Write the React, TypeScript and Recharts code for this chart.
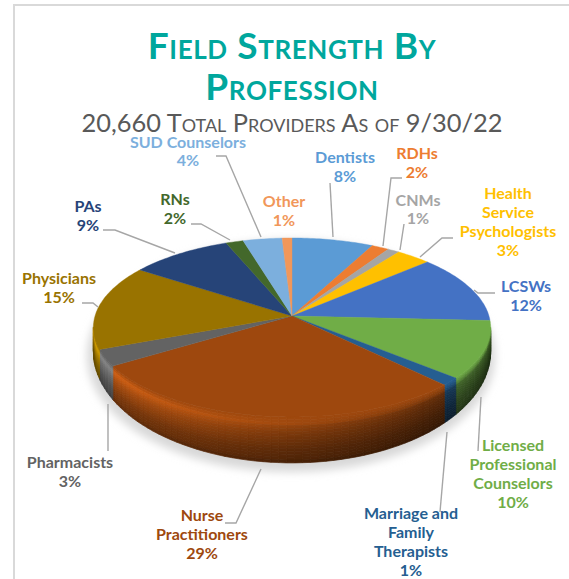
import React from "react";
import { PieChart, Pie, Cell } from "recharts";

const names = ["Dentists","RDHs","CNMs","Health Service Psychologists","LCSWs","Licensed Professional Counselors","Marriage and Family Therapists","Nurse Practitioners","Pharmacists","Physicians","PAs","RNs","SUD Counselors","Other"];
const shares = [7.5,1.6,1.1,3.2,12.4,10.4,1.4,28.5,3.0,15.4,9.4,1.6,3.6,0.9];
const colors = ["#5B9BD5","#ED7D31","#A5A5A5","#FFC000","#4472C4","#70AD47","#255E91","#9E480E","#636363","#997300","#264478","#43682B","#7CAFDD","#F1975A"];
const labelLines = [["Dentists"],["RDHs"],["CNMs"],["Health","Service","Psychologists"],["LCSWs"],["Licensed","Professional","Counselors"],["Marriage and","Family","Therapists"],["Nurse","Practitioners"],["Pharmacists"],["Physicians"],["PAs"],["RNs"],["SUD Counselors"],["Other"]];
const titleLines = ["Field Strength By","Profession"];
const subtitle = "20,660 Total Providers As of 9/30/22";

// Label placement: [centre x, first baseline, line step, leader points]
const labelPlacement: [number, number, number, number[][]][] = [
  [345,163,18.5,[[330,183],[333,237]]],
  [417,159,18.5,[[402,178],[391,178],[383,246]]],
  [418,206,18,[[404,224],[400,250]]],
  [508,199,19,[[453,238],[442,238],[420,257]]],
  [526,292,19,[[495,293],[478,293],[474,290]]],
  [513,451,19,[[481,397],[478,451]]],
  [411,519,19,[[447,432],[440,512]]],
  [202,521,19,[[261,469],[236,523],[225,523]]],
  [70,468,18.5,[[108,404],[108,451]]],
  [59,284,19,[[82,303],[93,303],[98,307]]],
  [88,212,19,[[103,230],[115,230],[175,253]]],
  [175,205,18.5,[[191,224],[201,224],[230,240]]],
  [188,148,18,[[216,156],[226,156],[261,237]]],
  [284,207,19,[]],
];

const data = names.map((name, i) => ({ name, value: shares[i] }));

const CX = 292, CY = 316, R = 197;
const VERT = 88 / 197, PERSP = 0.128;
const RIM_CY = 327, RIM_RY = 90;
const rad = Math.PI / 180;

const project = (theta: number, cx: number, cy: number, r: number) => {
  const u = Math.sin(theta * rad), v = Math.cos(theta * rad), w = 1 + PERSP * v;
  return [cx + (r * u) / w, cy - (r * VERT * v) / w];
};
const wallDepth = (y: number) => 24 + 22 * ((y - RIM_CY) / RIM_RY);

const shadeAt = (t: number, u: number) => {
  const stops = [[0,1.0],[0.16,1.2],[0.36,0.98],[0.72,0.72],[0.96,0.62],[1,0.42]];
  let s = 0.42;
  for (let i = 1; i < stops.length; i++) {
    if (t <= stops[i][0]) {
      const k = (t - stops[i-1][0]) / (stops[i][0] - stops[i-1][0]);
      s = stops[i-1][1] + k * (stops[i][1] - stops[i-1][1]);
      break;
    }
  }
  const light = 0.8 - 0.36 * u;
  return s * (1 + (light - 1) * Math.min(1, t / 0.2));
};
const shade = (hex: string, f: number) => {
  const n = parseInt(hex.slice(1), 16);
  const c = [(n >> 16) & 255, (n >> 8) & 255, n & 255].map((x) => Math.min(255, Math.round(x * f)));
  return `rgb(${c[0]},${c[1]},${c[2]})`;
};
const pts = (a: number[][]) => a.map((p) => `${p[0].toFixed(1)},${p[1].toFixed(1)}`).join(" ");

const Slice3D = (props: any) => {
  const { cx, cy, outerRadius, startAngle, endAngle, fill } = props;
  const t1 = 90 - Math.max(startAngle, endAngle);
  const t2 = 90 - Math.min(startAngle, endAngle);
  const arc: number[][] = [];
  for (let t = t1; t < t2; t += 1) arc.push(project(t, cx, cy, outerRadius));
  arc.push(project(t2, cx, cy, outerRadius));
  const w1 = Math.max(t1, 97), w2 = Math.min(t2, 263);
  const quads: React.ReactNode[] = [];
  if (w2 > w1) {
    const N = 16;
    for (let a = w1; a < w2; a += 2) {
      const b = Math.min(a + 2, w2);
      const p = project(a, cx, cy, outerRadius), q = project(b, cx, cy, outerRadius);
      const u = Math.sin(((a + b) / 2) * rad);
      for (let k = 0; k < N; k++) {
        const a0 = k / N, a1 = (k + 1) / N;
        const col = shade(fill, shadeAt((a0 + a1) / 2, u));
        quads.push(
          <polygon
            key={`${a}-${k}`}
            points={pts([
              [p[0], p[1] + wallDepth(p[1]) * a0],
              [q[0], q[1] + wallDepth(q[1]) * a0],
              [q[0], q[1] + wallDepth(q[1]) * a1],
              [p[0], p[1] + wallDepth(p[1]) * a1],
            ])}
            fill={col}
            stroke={col}
            strokeWidth={0.7}
          />
        );
      }
    }
  }
  return (
    <g>
      {quads}
      <polygon points={pts([[cx, cy], ...arc])} fill={fill} stroke={fill} strokeWidth={0.4} />
    </g>
  );
};

const SliceLabel = (props: any) => {
  const { index, value } = props;
  const [x, y, step, leader] = labelPlacement[index];
  const lines = labelLines[index];
  return (
    <g>
      {leader.length > 0 && <polyline points={pts(leader)} fill="none" stroke="#A6A6A6" strokeWidth={1.4} />}
      <text textAnchor="middle" fontFamily="Lato" fontWeight={700} fontSize={16} fill={colors[index]}>
        {lines.map((l, i) => <tspan key={i} x={x} y={y + i * step}>{l}</tspan>)}
        <tspan x={x} y={y + lines.length * step}>{`${Math.round(value)}%`}</tspan>
      </text>
    </g>
  );
};

export default function App() {
  return (
    <div style={{ position: "absolute", left: 0, top: 0, width: 569, height: 579, overflow: "hidden", background: "#fff" }}>
      <div style={{ position: "absolute", left: 13, top: 4, width: 600, height: 620, border: "2px solid #D9D9D9", boxSizing: "border-box" }} />
      <div style={{ position: "absolute", left: 0, top: 0 }}>
        <PieChart width={569} height={579} margin={{ top: 0, right: 0, bottom: 0, left: 0 }}>
          <defs>
            <filter id="pieShadow" x="-20%" y="-20%" width="140%" height="140%">
              <feGaussianBlur stdDeviation="4" />
            </filter>
          </defs>
          <ellipse cx={CX - 1} cy={356} rx={204} ry={116} fill="#D8D8D8" filter="url(#pieShadow)" />
          <text textAnchor="middle" fontFamily="Lato" fontWeight={700} fontSize={37} letterSpacing={0.6} fill="#00A79D" style={{ fontVariant: "small-caps" }}>
            {titleLines.map((l, i) => <tspan key={i} x={CX} y={59 + i * 41}>{l}</tspan>)}
          </text>
          <text x={CX} y={132} textAnchor="middle" fontFamily="Lato" fontSize={25.4} fill="#595959" style={{ fontVariant: "small-caps" }}>{subtitle}</text>
          <Pie
            data={data}
            dataKey="value"
            nameKey="name"
            cx={CX}
            cy={CY}
            outerRadius={R}
            startAngle={90}
            endAngle={-270}
            paddingAngle={0}
            stroke="none"
            isAnimationActive={false}
            shape={Slice3D}
            label={SliceLabel}
            labelLine={false}
          >
            {data.map((d, i) => <Cell key={d.name} fill={colors[i]} />)}
          </Pie>
        </PieChart>
      </div>
    </div>
  );
}
